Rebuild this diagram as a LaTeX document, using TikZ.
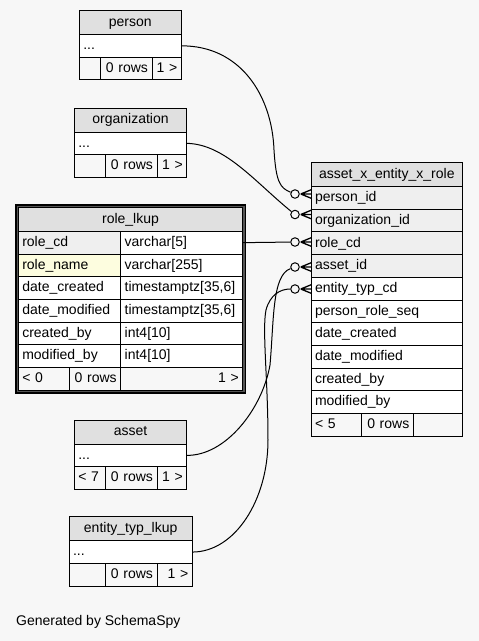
\documentclass[tikz,border=0pt]{standalone}
\usepackage{fontspec}
\setmainfont{Liberation Sans}
\usetikzlibrary{positioning}

\definecolor{bggray}{HTML}{F7F7F7}
\definecolor{hdrgray}{HTML}{E0E0E0}
\definecolor{keygray}{HTML}{EFEFEF}
\definecolor{rowyellow}{HTML}{FDFDDF}
\definecolor{rimgray}{HTML}{555555}

\newcommand{\tabfont}{\fontsize{14}{16}\selectfont}
% crow's foot between a circle and the table edge
\newcommand{\crowfoot}[1]{%
  \draw[line width=1.3pt] (#1.east) ++(1,0) -- ++(11,-4.5)
    (#1.east) ++(1,0) -- ++(11,0)
    (#1.east) ++(1,0) -- ++(11,4.5);}

\tikzset{
  cell/.style={draw, line width=1pt, anchor=north west, inner xsep=4pt, inner ysep=0pt,
    outer sep=0pt, font=\tabfont, text height=10.5pt, text depth=3pt, minimum height=22.7pt},
  hdr/.style={cell, fill=hdrgray, align=center, minimum height=24pt},
  fld/.style={cell, fill=white, align=left},
  ftl/.style={cell, fill=bggray, align=left},
  ftr/.style={cell, fill=bggray, align=right},
  odot/.style={circle, draw, fill=bggray, line width=1pt, inner sep=0pt, minimum size=8.5pt},
  conn/.style={line width=1pt},
}

\begin{document}
\begin{tikzpicture}[x=1pt, y=-1pt]
    % Background
    \fill[bggray] (0,0) rectangle (479,641);
    \useasboundingbox (0,0) rectangle (479,641);

    % person
    \node[hdr, text width=94pt] (person) at (79.3,10.5) {person};
    \node[fld, text width=94pt] (person-dots) at (person.south west) {...};
    \node[ftl, text width=12.7pt] (person-f1) at (person-dots.south west) {};
    \node[ftr, text width=44pt] (person-f2) at (person-f1.north east) {0 rows};
    \node[ftr, text width=21.3pt] (person-f3) at (person-f2.north east) {1 >};

    % organization
    \node[hdr, text width=104.4pt] (org) at (74.3,108) {organization};
    \node[fld, text width=104.4pt] (org-dots) at (org.south west) {...};
    \node[ftl, text width=22.7pt] (org-f1) at (org-dots.south west) {};
    \node[ftr, text width=44pt] (org-f2) at (org-f1.north east) {0 rows};
    \node[ftr, text width=21.7pt] (org-f3) at (org-f2.north east) {1 >};

    % role_lkup
    \node[hdr, text width=216.4pt] (rl-0) at (18.3,207.3) {role\_lkup};
    \foreach \f/\t/\c [count=\k] in {role\_cd/varchar[5]/keygray,
        role\_name/varchar[255]/rowyellow, date\_created/{timestamptz[35,6]}/white,
        date\_modified/{timestamptz[35,6]}/white, created\_by/int4[10]/white,
        modified\_by/int4[10]/white} {
      \pgfmathtruncatemacro{\prev}{\k-1}
      \node[fld, fill=\c, text width=94.4pt] (rl-\k) at (rl-\prev.south west) {\f};
      \node[fld, text width=114pt] (rl-\k-t) at (rl-\k.north east) {\t};
    }
    \node[ftl, text width=42.7pt] (rl-f1) at (rl-6.south west) {< 0};
    \node[ftr, text width=43.7pt] (rl-f2) at (rl-f1.north east) {0 rows};
    \node[ftr, text width=114pt] (rl-f3) at (rl-f2.north east) {1 >};
    \draw[line width=2pt] ([shift={(-2.7,-2.7)}]rl-0.north west) rectangle ([shift={(2.7,2.7)}]rl-f3.south east);
    \draw[rimgray, line width=1.2pt] ([shift={(-1.2,-1.2)}]rl-0.north west) rectangle ([shift={(1.2,1.2)}]rl-f3.south east);

    % asset_x_entity_x_role
    \node[hdr, text width=143.7pt] (axr-0) at (311,162.5) {asset\_x\_entity\_x\_role};
    \foreach \f/\c [count=\k] in {person\_id/keygray, organization\_id/keygray,
        role\_cd/keygray, asset\_id/keygray, entity\_typ\_cd/white,
        person\_role\_seq/white, date\_created/white, date\_modified/white,
        created\_by/white, modified\_by/white} {
      \pgfmathtruncatemacro{\prev}{\k-1}
      \node[fld, fill=\c, text width=143.7pt] (axr-\k) at (axr-\prev.south west) {\f};
    }
    \node[ftl, text width=42pt] (axr-f1) at (axr-10.south west) {< 5};
    \node[ftr, text width=44.3pt] (axr-f2) at (axr-f1.north east) {0 rows};
    \node[ftr, text width=41.4pt] (axr-f3) at (axr-f2.north east) {};

    % asset
    \node[hdr, text width=104.4pt] (asset) at (74.3,420) {asset};
    \node[fld, text width=104.4pt] (asset-dots) at (asset.south west) {...};
    \node[ftl, text width=22.7pt] (asset-f1) at (asset-dots.south west) {< 7};
    \node[ftr, text width=44pt] (asset-f2) at (asset-f1.north east) {0 rows};
    \node[ftr, text width=21.7pt] (asset-f3) at (asset-f2.north east) {1 >};

    % entity_typ_lkup
    \node[hdr, text width=115.3pt] (etl) at (69,516.7) {entity\_typ\_lkup};
    \node[fld, text width=115.3pt] (etl-dots) at (etl.south west) {...};
    \node[ftl, text width=28pt] (etl-f1) at (etl-dots.south west) {};
    \node[ftr, text width=44pt] (etl-f2) at (etl-f1.north east) {0 rows};
    \node[ftr, text width=27.3pt] (etl-f3) at (etl-f2.north east) {1 >};

    % Relationship ends
    \node[odot] (o-person) at (295,194) {};
    \node[odot] (o-org) at (295,214.5) {};
    \node[odot] (o-role) at (295,242) {};
    \node[odot] (o-asset) at (295,267) {};
    \node[odot] (o-etl) at (295,289) {};
    \foreach \o in {o-person, o-org, o-role, o-asset, o-etl} {\crowfoot{\o}}

    % Relationships
    \draw[conn] (person-dots.east) .. controls (240,45.5) and (272,95) .. (274,150)
        .. controls (276,182) and (280,188) .. (o-person);
    \draw[conn] (org-dots.east) .. controls (225,144) and (255,182) .. (o-org);
    \draw[conn] (rl-1-t.east) -- (o-role);
    \draw[conn] (asset-dots.east) .. controls (225,456) and (262,410) .. (270,365)
        .. controls (274,320) and (272,275) .. (o-asset);
    \draw[conn] (etl-dots.east) .. controls (235,552) and (268,500) .. (268,440)
        .. controls (268,380) and (262,330) .. (266,310)
        .. controls (270,295) and (280,289) .. (o-etl);

    % Footer
    \node[font=\tabfont, anchor=west, inner sep=0pt] (credit) at (16,621.7) {Generated by SchemaSpy};
\end{tikzpicture}
\end{document}
